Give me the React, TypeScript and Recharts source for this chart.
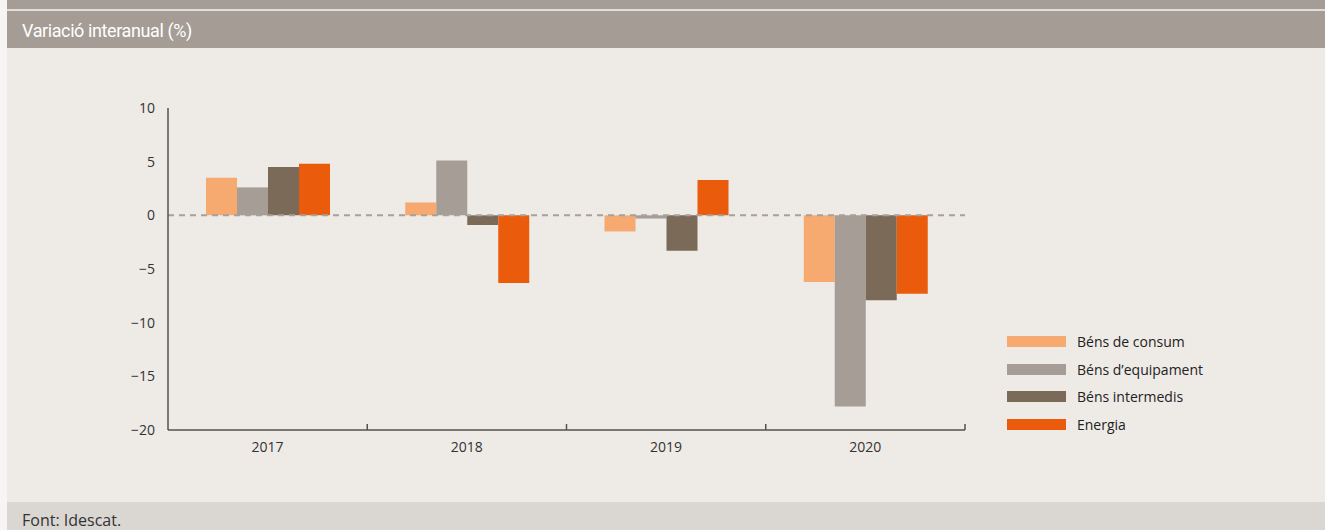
import { Bar, BarChart, ReferenceLine, XAxis, YAxis } from "recharts";

const YEARS = ["2017", "2018", "2019", "2020"];
const CONSUM = [3.5, 1.2, -1.5, -6.2];
const EQUIPAMENT = [2.6, 5.1, -0.3, -17.8];
const INTERMEDIS = [4.5, -0.9, -3.3, -7.9];
const ENERGIA = [4.8, -6.3, 3.3, -7.3];
const Y_TICKS = [-20, -15, -10, -5, 0, 5, 10];

const SERIES = [
  { key: "consum", name: "Béns de consum", color: "#F6AA70" },
  { key: "equipament", name: "Béns d\u2019equipament", color: "#A69D96" },
  { key: "intermedis", name: "Béns intermedis", color: "#7B6A58" },
  { key: "energia", name: "Energia", color: "#EA5B0C" },
];

const data = YEARS.map((year, i) => ({
  year,
  consum: CONSUM[i],
  equipament: EQUIPAMENT[i],
  intermedis: INTERMEDIS[i],
  energia: ENERGIA[i],
}));

const FONT = "'Open Sans', 'Noto Sans', sans-serif";
const AXIS_COLOR = "#555150";

function YearTick(props: any) {
  const { x, y, payload } = props;
  const half = payload?.offset ?? 99.5;
  const axisY = y - 12;
  return (
    <g>
      <line x1={x + half} x2={x + half} y1={axisY - 6} y2={axisY} stroke={AXIS_COLOR} strokeWidth={1.5} />
      <text x={x} y={y} dy={10} textAnchor="middle" fontSize={14} fill="#333" fontFamily={FONT}>
        {payload.value}
      </text>
    </g>
  );
}

function LegendBox() {
  return (
    <div style={{ position: "absolute", left: 1007, top: 328, fontFamily: FONT, fontSize: 14, color: "#222" }}>
      {SERIES.map((s) => (
        <div key={s.key} style={{ display: "flex", alignItems: "center", height: 27.5 }}>
          <span style={{ width: 59, height: 11, background: s.color, marginRight: 11, display: "inline-block" }} />
          <span>{s.name}</span>
        </div>
      ))}
    </div>
  );
}

export default function App() {
  return (
    <div style={{ position: "absolute", left: 0, top: 0, width: 1325, height: 530, background: "#F7F5F3", overflow: "hidden" }}>
      <div style={{ position: "absolute", left: 7, top: 0, right: 0, height: 9, background: "#A59C95" }} />
      <div style={{ position: "absolute", left: 7, top: 9, right: 0, height: 2, background: "#E2DDD9" }} />
      <div
        style={{
          position: "absolute",
          left: 7,
          top: 11,
          right: 0,
          height: 37,
          background: "#A59C95",
          color: "#fff",
          fontFamily: "Roboto, sans-serif",
          fontSize: 18,
          letterSpacing: -0.4,
          lineHeight: "39px",
          paddingLeft: 15,
        }}
      >
        Variació interanual (%)
      </div>
      <div style={{ position: "absolute", left: 7, top: 48, right: 0, height: 454, background: "#EEEAE6" }} />
      <div
        style={{
          position: "absolute",
          left: 7,
          top: 502,
          right: 0,
          height: 28,
          background: "#DAD6D2",
          color: "#333",
          fontFamily: FONT,
          fontSize: 16,
          lineHeight: "36px",
          paddingLeft: 15,
        }}
      >
        Font: Idescat.
      </div>
      <div style={{ position: "absolute", left: 0, top: 0 }}>
        <BarChart
          width={1325}
          height={530}
          data={data}
          margin={{ top: 108, right: 360, bottom: 70, left: 0 }}
          barSize={31}
          barGap={0}
        >
          <YAxis
            domain={[-20, 10]}
            ticks={Y_TICKS}
            width={168}
            tickLine={false}
            tickMargin={7}
            axisLine={{ stroke: AXIS_COLOR, strokeWidth: 1.5 }}
            tick={{ fontSize: 14, fill: "#333", fontFamily: FONT }}
            tickFormatter={(v: number) => (v < 0 ? `\u2212${Math.abs(v)}` : `${v}`)}
          />
          <XAxis
            dataKey="year"
            height={30}
            tickLine={false}
            tickSize={0}
            tickMargin={12}
            axisLine={{ stroke: AXIS_COLOR, strokeWidth: 1.5 }}
            tick={<YearTick />}
            interval={0}
          />
          {SERIES.map((s) => (
            <Bar key={s.key} dataKey={s.key} name={s.name} fill={s.color} isAnimationActive={false} />
          ))}
          <ReferenceLine y={0} stroke="#A8A19B" strokeWidth={2} strokeDasharray="6 5" />
        </BarChart>
      </div>
      <LegendBox />
    </div>
  );
}
